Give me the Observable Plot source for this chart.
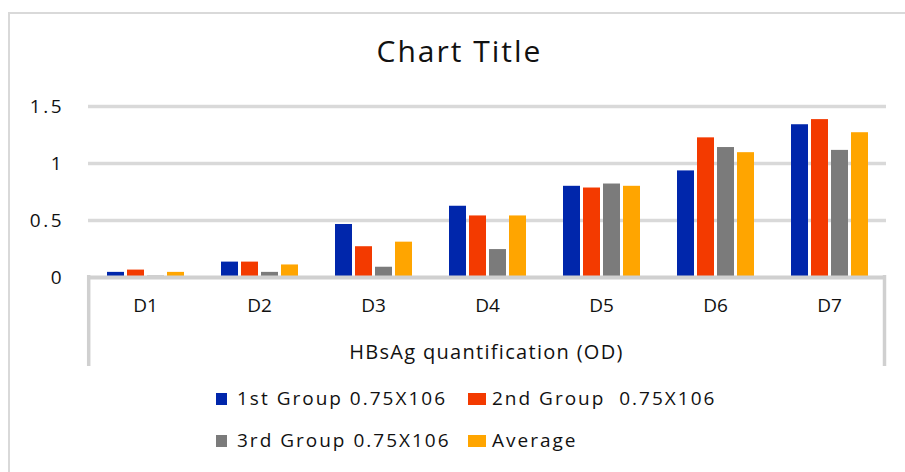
<!DOCTYPE html>
<html>
<head>
<meta charset="utf-8">
<script src="https://cdn.jsdelivr.net/npm/d3@7"></script>
<script src="https://cdn.jsdelivr.net/npm/@observablehq/plot@0.6"></script>
<style>
  html, body { margin: 0; padding: 0; background: #fff; }
  #wrap { position: relative; width: 905px; height: 472px; overflow: hidden;
          font-family: "Open Sans", sans-serif; color: #111; background: #fff; }
  #border { position: absolute; left: 8px; top: 12px; width: 1000px; height: 1000px;
            border: 2px solid #d9d9d9; box-sizing: border-box; }
  #title { position: absolute; left: 0; top: 36px; width: 919px; text-align: center;
           font-size: 30px; line-height: 30px; letter-spacing: 2px; white-space: pre; }
  #xtitle { position: absolute; left: 0; top: 342px; width: 973px; text-align: center;
            font-size: 20px; line-height: 20px; letter-spacing: 1.3px; white-space: pre; }
  #chart { position: absolute; left: 0; top: 0; }
  #chart svg g[aria-label="y-axis tick label"] text { letter-spacing: 2.5px; }
  .lg-item { position: absolute; font-size: 19px; line-height: 19px; letter-spacing: 2px; white-space: pre; }
  .lg-sw { position: absolute; }
</style>
</head>
<body>
<div id="wrap">
  <div id="border"></div>
  <div id="title"></div>
  <div id="chart"></div>
  <div id="xtitle"></div>
  <div id="legend"></div>
</div>
<script>
// ---- data ----
const chartTitle = "Chart Title";
const xTitle = "HBsAg quantification (OD)";
const days = ["D1", "D2", "D3", "D4", "D5", "D6", "D7"];
const seriesNames = ["1st Group 0.75X106", "2nd Group  0.75X106", "3rd Group 0.75X106", "Average"];
const seriesColors = ["#0026ab", "#f33a00", "#7b7b7b", "#ffa500"];
const group1 = [0.045, 0.135, 0.465, 0.625, 0.80, 0.935, 1.34];
const group2 = [0.065, 0.135, 0.27, 0.54, 0.785, 1.225, 1.385];
const group3 = [0.012, 0.045, 0.09, 0.245, 0.82, 1.14, 1.115];
const average = [0.045, 0.11, 0.31, 0.54, 0.80, 1.095, 1.27];
const yTicks = [0, 0.5, 1, 1.5];

const seriesValues = [group1, group2, group3, average];
const rows = days.flatMap((d, i) => seriesNames.map((s, j) => ({day: d, series: s, value: seriesValues[j][i]})));

document.getElementById("title").textContent = chartTitle;
document.getElementById("xtitle").textContent = xTitle;

const W = 905, H = 372, ML = 87, MR = 19, MT = 106, MB = 95;

const chart = Plot.plot({
  width: W, height: H,
  marginLeft: ML, marginRight: MR, marginTop: MT, marginBottom: MB,
  style: {fontFamily: '"Open Sans", sans-serif', fontSize: "19px", color: "#111", background: "transparent", overflow: "visible"},
  fx: {domain: days, padding: 0, axis: null},
  x: {domain: seriesNames, paddingInner: 0.17, paddingOuter: 0.8, axis: null},
  y: {domain: [0, 1.5], axis: null},
  color: {domain: seriesNames, range: seriesColors},
  marks: [
    Plot.ruleY(yTicks.filter(t => t > 0), {stroke: "#d9d9d9", strokeWidth: 3.5}),
    Plot.barY(rows, {fx: "day", x: "series", y: "value", fill: "series"}),
    Plot.ruleY([0], {stroke: "#d0d0d0", strokeWidth: 4}),
    Plot.axisY(yTicks, {anchor: "left", tickSize: 0, tickPadding: 24.5, tickFormat: d => String(d), label: null}),
    Plot.axisFx({anchor: "bottom", tickSize: 0, tickPadding: 21, label: null})
  ]
});
document.getElementById("chart").appendChild(chart);

// category axis box (vertical lines under the baseline), placed from the scales
let fxs = null, ys = null;
try { fxs = chart.scale("fx"); } catch (e) {}
try { ys = chart.scale("y"); } catch (e) {}
const xLeft = fxs ? fxs.apply(days[0]) : ML;
const xRight = fxs ? fxs.apply(days[days.length - 1]) + fxs.bandwidth : W - MR;
const yBase = ys ? ys.apply(0) : H - MB;
d3.select(chart).append("g")
  .selectAll("line")
  .data([xLeft + 0.7, xRight - 1.5])
  .join("line")
  .attr("x1", d => d).attr("x2", d => d)
  .attr("y1", yBase - 2).attr("y2", yBase + 89)
  .attr("stroke", "#d0d0d0").attr("stroke-width", 3.5);

// legend (2 columns x 2 rows)
const legendCols = [{sw: 216, swW: 11, tx: 237}, {sw: 468, swW: 18, tx: 492}];
const legendRows = [{top: 389, swTop: 393}, {top: 431, swTop: 435}];
const legend = document.getElementById("legend");
seriesNames.forEach((name, i) => {
  const c = legendCols[i % 2], r = legendRows[Math.floor(i / 2)];
  const sw = document.createElement("div");
  sw.className = "lg-sw";
  sw.style.cssText = `left:${c.sw}px;top:${r.swTop}px;width:${c.swW}px;height:12px;background:${seriesColors[i]};`;
  legend.appendChild(sw);
  const tx = document.createElement("div");
  tx.className = "lg-item";
  tx.style.cssText = `left:${c.tx}px;top:${r.top}px;`;
  tx.textContent = name;
  legend.appendChild(tx);
});
</script>
</body>
</html>
